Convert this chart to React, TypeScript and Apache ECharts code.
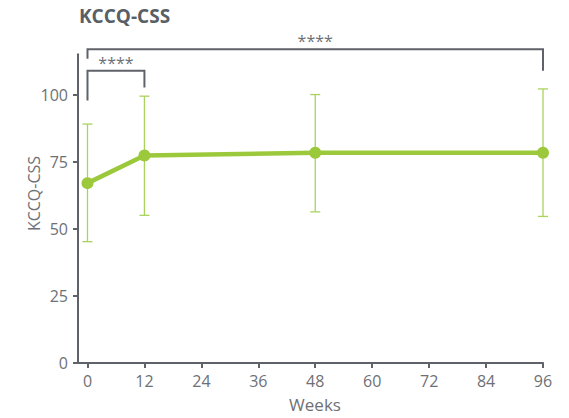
import React, { useEffect, useRef } from "react";
import * as echarts from "echarts";

const weeks = [0, 12, 48, 96];
const means = [67, 77.3, 78.3, 78.3];
const lower = [45.2, 55, 56.3, 54.6];
const upper = [89, 99.4, 100, 102.1];
const xTicks = [0, 12, 24, 36, 48, 60, 72, 84, 96];
const yTicks = [0, 25, 50, 75, 100];
// brackets: [fromWeek, toWeek, lineY, leftLegEndY, rightLegEndY]
const brackets = [
  [0, 96, 116.9, 113.3, 108.9],
  [0, 12, 108.9, 97.8, 102.6],
];
const bracketLabels = ["****", "****"];

const FONT = "'Open Sans', 'DejaVu Sans', sans-serif";
const AXIS = "#5f6369";
const TEXT = "#6d7176";
const GREEN = "#9cc93b";
const LIGHT = "#aad35e";

export default function App() {
  const ref = useRef<HTMLDivElement>(null);
  useEffect(() => {
    const chart = echarts.init(ref.current!, null, { renderer: "svg" });
    chart.setOption({
      animation: false,
      title: {
        text: "KCCQ-CSS",
        left: 79,
        top: 6,
        padding: 0,
        textStyle: { fontFamily: FONT, fontSize: 19, fontWeight: "bold", color: "#5a5f66" },
      },
      grid: { left: 78, right: 26, top: 54.3, bottom: 54.3 },
      xAxis: {
        type: "value",
        min: -2,
        max: 96,
        name: "Weeks",
        nameLocation: "middle",
        nameGap: 33,
        nameTextStyle: { fontFamily: FONT, fontSize: 17, color: TEXT, padding: [0, 0, 0, 9] },
        axisLine: { show: true, onZero: false, lineStyle: { color: AXIS, width: 2 } },
        axisTick: { show: true, length: 5, lineStyle: { color: AXIS, width: 2 }, customValues: xTicks },
        axisLabel: { customValues: xTicks, margin: 10, fontFamily: FONT, fontSize: 16, color: TEXT },
        splitLine: { show: false },
      },
      yAxis: {
        type: "value",
        min: 0,
        max: 115,
        axisLine: { show: true, onZero: false, lineStyle: { color: AXIS, width: 2 } },
        axisTick: { show: true, length: 5, lineStyle: { color: AXIS, width: 2 }, customValues: yTicks },
        axisLabel: { customValues: yTicks, margin: 10, fontFamily: FONT, fontSize: 16, color: TEXT },
        splitLine: { show: false },
      },
      graphic: [
        {
          type: "text",
          x: 34,
          y: 193.5,
          rotation: Math.PI / 2,
          style: {
            text: "KCCQ-CSS",
            fontFamily: FONT,
            fontSize: 16,
            fill: TEXT,
            align: "center",
            verticalAlign: "middle",
          },
        },
      ],
      series: [
        {
          type: "custom",
          z: 1,
          data: weeks.map((w, i) => [w, lower[i], upper[i]]),
          encode: { x: 0, y: [1, 2] },
          renderItem: (params: any, api: any) => {
            const lo = api.coord([api.value(0), api.value(1)]);
            const hi = api.coord([api.value(0), api.value(2)]);
            const cap = 5;
            const st = { stroke: LIGHT, lineWidth: 1.3 };
            return {
              type: "group",
              children: [
                { type: "line", shape: { x1: lo[0], y1: lo[1], x2: hi[0], y2: hi[1] }, style: st },
                { type: "line", shape: { x1: lo[0] - cap, y1: lo[1], x2: lo[0] + cap, y2: lo[1] }, style: st },
                { type: "line", shape: { x1: hi[0] - cap, y1: hi[1], x2: hi[0] + cap, y2: hi[1] }, style: st },
              ],
            };
          },
        },
        {
          type: "line",
          z: 3,
          data: weeks.map((w, i) => [w, means[i]]),
          symbol: "circle",
          symbolSize: 12,
          lineStyle: { color: GREEN, width: 4.5 },
          itemStyle: { color: GREEN },
        },
        {
          type: "custom",
          z: 4,
          clip: false,
          data: brackets,
          encode: { x: [0, 1], y: [2, 3, 4] },
          renderItem: (params: any, api: any) => {
            const a = api.coord([api.value(0), api.value(2)]);
            const b = api.coord([api.value(1), api.value(2)]);
            const aEnd = api.coord([api.value(0), api.value(3)]);
            const bEnd = api.coord([api.value(1), api.value(4)]);
            return {
              type: "group",
              children: [
                {
                  type: "polyline",
                  shape: { points: [[a[0], aEnd[1]], a, b, [b[0], bEnd[1]]] },
                  style: { stroke: AXIS, lineWidth: 2, fill: "none" },
                },
                {
                  type: "text",
                  x: (a[0] + b[0]) / 2,
                  y: a[1] - 8,
                  style: {
                    text: bracketLabels[params.dataIndex],
                    fontFamily: FONT,
                    fontSize: 16,
                    fill: TEXT,
                    align: "center",
                    verticalAlign: "middle",
                  },
                },
              ],
            };
          },
        },
      ],
    });
    return () => chart.dispose();
  }, []);
  return (
    <div
      ref={ref}
      style={{ position: "fixed", left: 0, top: 0, width: 569, height: 418, background: "#fff" }}
    />
  );
}
